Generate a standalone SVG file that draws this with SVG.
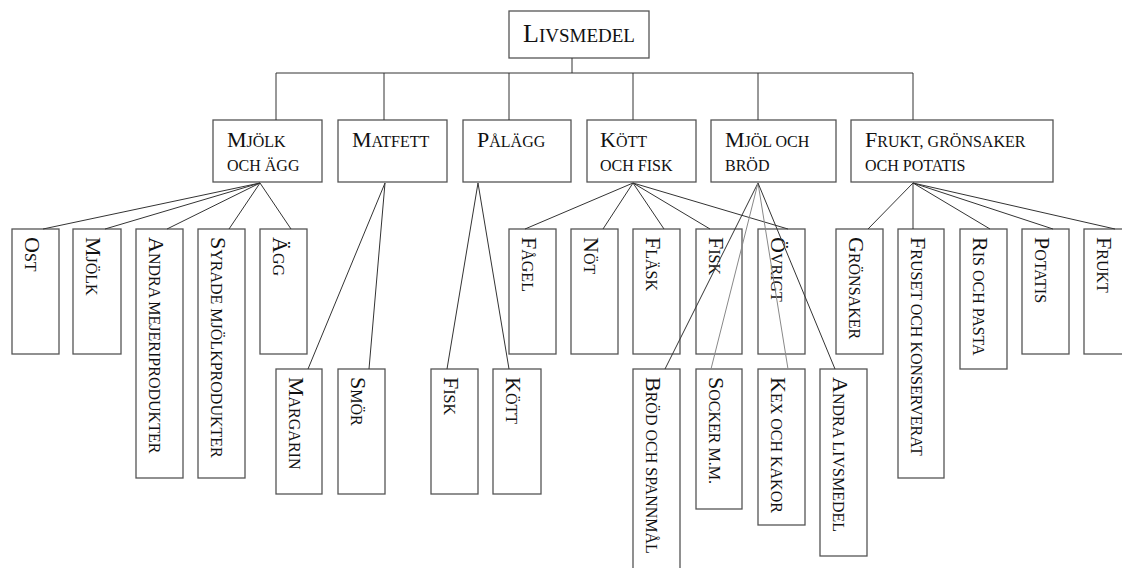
<svg xmlns="http://www.w3.org/2000/svg" width="1122" height="568" viewBox="0 0 1122 568">
<style>
rect{fill:#fff;stroke:#555;stroke-width:1.3}
text{font-family:"Liberation Serif","Times New Roman",serif;fill:#111}
.b{font-size:22px}
.s{font-size:16px}
.B{font-size:26px}
.S{font-size:19px}
#connectors line{stroke:#333;stroke-width:1}
#connectors line.l{stroke:#888}
</style>
<rect x="0" y="0" width="1122" height="568" style="stroke:none"/>
<g id="livsmedel"><rect x="509" y="11" width="140" height="47"/><text x="523" y="42"><tspan class="B">L</tspan><tspan class="S">IVSMEDEL</tspan></text></g>
<g id="mjolk-och-agg"><rect x="213" y="120" width="109" height="62"/><text x="227" y="147"><tspan class="b">M</tspan><tspan class="s">JÖLK</tspan></text><text x="227" y="171" class="s">OCH ÄGG</text></g>
<g id="matfett"><rect x="338" y="120" width="109" height="62"/><text x="352" y="147"><tspan class="b">M</tspan><tspan class="s">ATFETT</tspan></text></g>
<g id="palagg"><rect x="463" y="120" width="108" height="62"/><text x="477" y="147"><tspan class="b">P</tspan><tspan class="s">ÅLÄGG</tspan></text></g>
<g id="kott-och-fisk"><rect x="587" y="120" width="109" height="62"/><text x="600" y="147"><tspan class="b">K</tspan><tspan class="s">ÖTT</tspan></text><text x="600" y="171" class="s">OCH FISK</text></g>
<g id="mjol-och-brod"><rect x="711" y="120" width="125" height="62"/><text x="725" y="147"><tspan class="b">M</tspan><tspan class="s">JÖL OCH</tspan></text><text x="725" y="171" class="s">BRÖD</text></g>
<g id="frukt-gronsaker-potatis"><rect x="851" y="120" width="202" height="62"/><text x="865" y="147"><tspan class="b">F</tspan><tspan class="s">RUKT, GRÖNSAKER</tspan></text><text x="865" y="171" class="s">OCH POTATIS</text></g>
<g id="ost"><rect x="12" y="229" width="47" height="125"/><text transform="translate(25,237) rotate(90)"><tspan class="b">O</tspan><tspan class="s">ST</tspan></text></g>
<g id="mjolk"><rect x="73" y="229" width="48" height="125"/><text transform="translate(86,237) rotate(90)"><tspan class="b">M</tspan><tspan class="s">JÖLK</tspan></text></g>
<g id="andra-mejeriprodukter"><rect x="136" y="229" width="47" height="249"/><text transform="translate(149,237) rotate(90)"><tspan class="b">A</tspan><tspan class="s">NDRA MEJERIPRODUKTER</tspan></text></g>
<g id="syrade-mjolkprodukter"><rect x="198" y="229" width="47" height="249"/><text transform="translate(211,237) rotate(90)"><tspan class="b">S</tspan><tspan class="s">YRADE MJÖLKPRODUKTER</tspan></text></g>
<g id="agg"><rect x="260" y="229" width="47" height="125"/><text transform="translate(273,237) rotate(90)"><tspan class="b">Ä</tspan><tspan class="s">GG</tspan></text></g>
<g id="margarin"><rect x="276" y="369" width="46" height="125"/><text transform="translate(289,377) rotate(90)"><tspan class="b">M</tspan><tspan class="s">ARGARIN</tspan></text></g>
<g id="smor"><rect x="338" y="369" width="47" height="125"/><text transform="translate(351,377) rotate(90)"><tspan class="b">S</tspan><tspan class="s">MÖR</tspan></text></g>
<g id="palagg-fisk"><rect x="431" y="369" width="47" height="125"/><text transform="translate(444,377) rotate(90)"><tspan class="b">F</tspan><tspan class="s">ISK</tspan></text></g>
<g id="palagg-kott"><rect x="493" y="369" width="48" height="125"/><text transform="translate(506,377) rotate(90)"><tspan class="b">K</tspan><tspan class="s">ÖTT</tspan></text></g>
<g id="fagel"><rect x="509" y="229" width="47" height="125"/><text transform="translate(522,237) rotate(90)"><tspan class="b">F</tspan><tspan class="s">ÅGEL</tspan></text></g>
<g id="not"><rect x="571" y="229" width="47" height="125"/><text transform="translate(584,237) rotate(90)"><tspan class="b">N</tspan><tspan class="s">ÖT</tspan></text></g>
<g id="flask"><rect x="633" y="229" width="47" height="125"/><text transform="translate(646,237) rotate(90)"><tspan class="b">F</tspan><tspan class="s">LÄSK</tspan></text></g>
<g id="fisk"><rect x="696" y="229" width="46" height="125"/><text transform="translate(709,237) rotate(90)"><tspan class="b">F</tspan><tspan class="s">ISK</tspan></text></g>
<g id="ovrigt"><rect x="758" y="229" width="47" height="125"/><text transform="translate(771,237) rotate(90)"><tspan class="b">Ö</tspan><tspan class="s">VRIGT</tspan></text></g>
<g id="brod-och-spannmal"><rect x="633" y="369" width="47" height="215"/><text transform="translate(646,377) rotate(90)"><tspan class="b">B</tspan><tspan class="s">RÖD OCH SPANNMÅL</tspan></text></g>
<g id="socker"><rect x="696" y="369" width="46" height="140"/><text transform="translate(709,377) rotate(90)"><tspan class="b">S</tspan><tspan class="s">OCKER M.M.</tspan></text></g>
<g id="kex-och-kakor"><rect x="758" y="369" width="47" height="156"/><text transform="translate(771,377) rotate(90)"><tspan class="b">K</tspan><tspan class="s">EX OCH KAKOR</tspan></text></g>
<g id="andra-livsmedel"><rect x="820" y="369" width="47" height="187"/><text transform="translate(833,377) rotate(90)"><tspan class="b">A</tspan><tspan class="s">NDRA LIVSMEDEL</tspan></text></g>
<g id="gronsaker"><rect x="836" y="229" width="47" height="125"/><text transform="translate(849,237) rotate(90)"><tspan class="b">G</tspan><tspan class="s">RÖNSAKER</tspan></text></g>
<g id="fruset-och-konserverat"><rect x="898" y="229" width="46" height="249"/><text transform="translate(911,237) rotate(90)"><tspan class="b">F</tspan><tspan class="s">RUSET OCH KONSERVERAT</tspan></text></g>
<g id="ris-och-pasta"><rect x="960" y="229" width="47" height="140"/><text transform="translate(973,237) rotate(90)"><tspan class="b">R</tspan><tspan class="s">IS OCH PASTA</tspan></text></g>
<g id="potatis"><rect x="1022" y="229" width="47" height="125"/><text transform="translate(1035,237) rotate(90)"><tspan class="b">P</tspan><tspan class="s">OTATIS</tspan></text></g>
<g id="frukt"><rect x="1084" y="229" width="47" height="125"/><text transform="translate(1097,237) rotate(90)"><tspan class="b">F</tspan><tspan class="s">RUKT</tspan></text></g>
<g id="connectors">
<line x1="572" y1="58" x2="572" y2="73"/>
<line x1="276" y1="73" x2="913" y2="73"/>
<line x1="276" y1="73" x2="276" y2="120"/>
<line x1="384" y1="73" x2="384" y2="120"/>
<line x1="509" y1="73" x2="509" y2="120"/>
<line x1="633" y1="73" x2="633" y2="120"/>
<line x1="758" y1="73" x2="758" y2="120"/>
<line x1="913" y1="73" x2="913" y2="120"/>
<line x1="260" y1="183" x2="43" y2="229"/>
<line x1="260" y1="183" x2="105" y2="229"/>
<line x1="260" y1="183" x2="167" y2="229"/>
<line x1="260" y1="183" x2="229" y2="229"/>
<line x1="260" y1="183" x2="291" y2="229"/>
<line x1="385" y1="183" x2="308" y2="369"/>
<line x1="385" y1="183" x2="369" y2="369"/>
<line x1="478" y1="183" x2="447" y2="369"/>
<line x1="478" y1="183" x2="509" y2="369"/>
<line x1="633" y1="183" x2="525" y2="229"/>
<line x1="633" y1="183" x2="603" y2="229"/>
<line x1="633" y1="183" x2="664" y2="229"/>
<line x1="633" y1="183" x2="710" y2="229"/>
<line x1="633" y1="183" x2="788" y2="229"/>
<line x1="758" y1="183" x2="665" y2="369"/>
<line class="l" x1="758" y1="183" x2="711" y2="369"/>
<line class="l" x1="758" y1="183" x2="788" y2="369"/>
<line x1="758" y1="183" x2="835" y2="369"/>
<line x1="913" y1="183" x2="868" y2="229"/>
<line x1="913" y1="183" x2="913" y2="229"/>
<line x1="913" y1="183" x2="990" y2="229"/>
<line x1="913" y1="183" x2="1053" y2="229"/>
<line x1="913" y1="183" x2="1115" y2="229"/>
</g>
</svg>
